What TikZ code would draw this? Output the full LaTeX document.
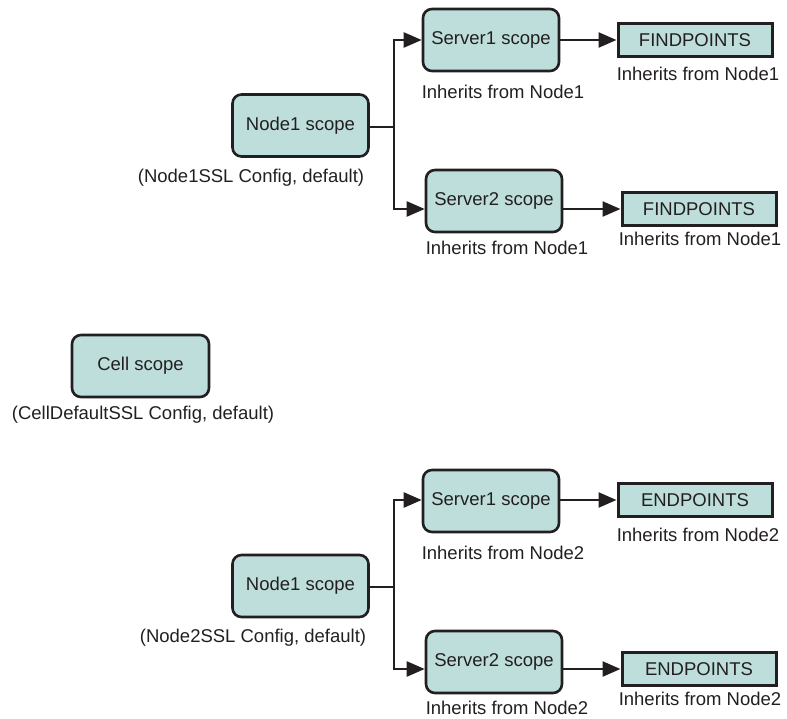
\documentclass[tikz,border=0pt]{standalone}
\usepackage{fontspec}
\setmainfont{Liberation Sans}
\usetikzlibrary{arrows.meta}
\definecolor{boxfill}{RGB}{189,222,219}
\definecolor{ink}{RGB}{35,31,32}
\tikzset{
  scopebox/.style={draw=ink, line width=2.6pt, fill=boxfill, rounded corners=9pt,
    minimum width=136pt, minimum height=62pt, inner sep=0pt, text=ink,
    font=\fontsize{18.5}{22}\selectfont},
  pointbox/.style={draw=ink, line width=3pt, fill=boxfill,
    minimum width=154pt, minimum height=33pt, inner sep=0pt, text=ink,
    font=\fontsize{18.5}{22}\selectfont},
  lbl/.style={text=ink, inner sep=0pt, font=\fontsize{18.5}{22}\selectfont},
  conn/.style={draw=ink, line width=2.4pt},
  arr/.style={conn, -{Triangle[length=18pt,width=15pt]}}
}
\begin{document}
\begin{tikzpicture}[x=1pt,y=-1pt]
\useasboundingbox (0,0) rectangle (787,719);
% top group
\node[scopebox] (n1) at (300.5,125.5) {Node1 scope};
\node[lbl] (n1l) at (251,178) {(Node1SSL Config, default)};
\node[scopebox] (s1) at (491,40) {Server1 scope};
\node[lbl] (s1l) at (503,92) {Inherits from Node1};
\node[pointbox] (f1) at (695,40) {FINDPOINTS};
\node[lbl] (f1l) at (698,74) {Inherits from Node1};
\node[scopebox] (s2) at (494,201) {Server2 scope};
\node[lbl] (s2l) at (507,248) {Inherits from Node1};
\node[pointbox] (f2) at (699,209) {FINDPOINTS};
\node[lbl] (f2l) at (700,239) {Inherits from Node1};
\coordinate (j1) at (394,127);
\draw[conn] (n1.east |- j1) -- (j1);
\draw[arr] (j1) |- (s1.west);
\draw[arr] (j1) |- (s2.west |- f2.west);
\draw[arr] (s1.east) -- (f1.west);
\draw[arr] (s2.east |- f2.west) -- (f2.west);
% cell
\node[scopebox, minimum width=137pt] (c) at (140.5,366) {Cell scope};
\node[lbl] (cl) at (143,415) {(CellDefaultSSL Config, default)};
% bottom group
\node[scopebox] (n2) at (300.5,586) {Node1 scope};
\node[lbl] (n2l) at (253,638) {(Node2SSL Config, default)};
\node[scopebox] (t1) at (491,501) {Server1 scope};
\node[lbl] (t1l) at (503,553) {Inherits from Node2};
\node[pointbox] (e1) at (695,500) {ENDPOINTS};
\node[lbl] (e1l) at (698,535) {Inherits from Node2};
\node[scopebox] (t2) at (494,662) {Server2 scope};
\node[lbl] (t2l) at (507,708) {Inherits from Node2};
\node[pointbox] (e2) at (699,669) {ENDPOINTS};
\node[lbl] (e2l) at (700,699) {Inherits from Node2};
\coordinate (j2) at (394,587);
\draw[conn] (n2.east |- j2) -- (j2);
\draw[arr] (j2) |- (t1.west |- e1.west);
\draw[arr] (j2) |- (t2.west |- e2.west);
\draw[arr] (t1.east |- e1.west) -- (e1.west);
\draw[arr] (t2.east |- e2.west) -- (e2.west);
\end{tikzpicture}
\end{document}
